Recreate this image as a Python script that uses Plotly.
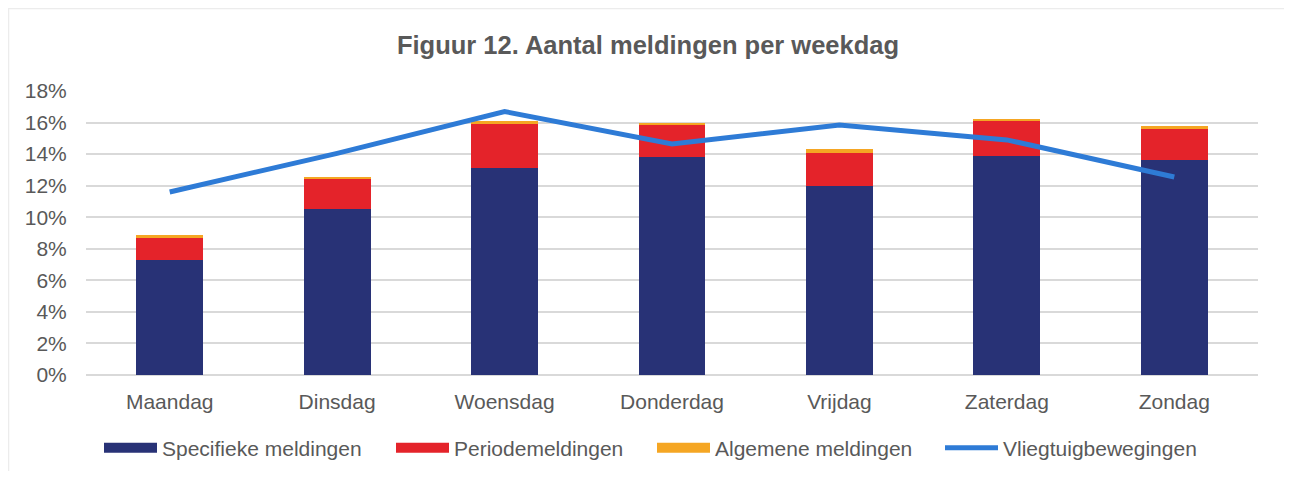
import plotly.graph_objects as go

days = ["Maandag", "Dinsdag", "Woensdag", "Donderdag", "Vrijdag", "Zaterdag", "Zondag"]
specifieke = [7.3, 10.5, 13.15, 13.8, 12.0, 13.9, 13.6]
periode = [1.4, 1.9, 2.75, 2.05, 2.1, 2.2, 2.0]
algemene = [0.2, 0.15, 0.2, 0.15, 0.22, 0.15, 0.2]
vliegtuig = [11.6, 14.05, 16.7, 14.65, 15.85, 14.9, 12.55]
y_ticks = [0, 2, 4, 6, 8, 10, 12, 14, 16, 18]

NAVY = "#283276"
RED = "#e4232a"
ORANGE = "#f5a623"
BLUE = "#2e7bd6"
TXT = "#595959"
FONT = "Liberation Sans, Arial, sans-serif"

# page body has an 8px margin; figure is placed at (8, 8)
OFF = 8
W, H = 1276, 463
PL, PR, PT, PB = 86, 1258, 91, 375  # plot area in page pixels
PW, PH = PR - PL, PB - PT

fig = go.Figure()
for name, vals, col in [("Specifieke meldingen", specifieke, NAVY),
                        ("Periodemeldingen", periode, RED),
                        ("Algemene meldingen", algemene, ORANGE)]:
    fig.add_trace(go.Bar(x=days, y=vals, name=name, marker_color=col,
                         marker_line_width=0, showlegend=False))

fig.add_trace(go.Scatter(x=days, y=vliegtuig, mode="lines", name="Vliegtuigbewegingen",
                         line=dict(color=BLUE, width=5), showlegend=False))

legend_entries = [("Specifieke meldingen", NAVY, 10, 104),
                  ("Periodemeldingen", RED, 10, 396),
                  ("Algemene meldingen", ORANGE, 10, 657),
                  ("Vliegtuigbewegingen", BLUE, 5, 945)]
legend_layout = {}
for i, (name, col, w, px) in enumerate(legend_entries):
    key = "legend" if i == 0 else f"legend{i + 1}"
    fig.add_trace(go.Scatter(x=[None], y=[None], mode="lines", name=name,
                             line=dict(color=col, width=w), showlegend=True, legend=key))
    legend_layout[key] = dict(orientation="h", x=(px - 5 - PL) / PW, xanchor="left",
                              y=(PB - 448) / PH, yanchor="middle",
                              font=dict(size=21, color=TXT, family=FONT), itemwidth=53,
                              bgcolor="rgba(0,0,0,0)", borderwidth=0)

fig.update_layout(
    barmode="stack",
    bargap=0.6,
    width=W, height=H,
    margin=dict(l=PL - OFF, r=W - (PR - OFF), t=PT - OFF, b=H - (PB - OFF), autoexpand=False),
    paper_bgcolor="white", plot_bgcolor="white",
    font=dict(family=FONT, color=TXT, size=21),
    title=dict(text="<b>Figuur 12. Aantal meldingen per weekdag</b>", x=(648 - OFF) / W,
               xref="container", xanchor="center", y=1 - (45 - OFF) / H, yanchor="middle",
               font=dict(size=25.5, color=TXT, family=FONT)),
    showlegend=True,
    **legend_layout,
)
fig.update_xaxes(showgrid=False, ticks="outside", ticklen=8, tickcolor="rgba(0,0,0,0)",
                 showline=False, tickfont=dict(size=21, color=TXT))
fig.update_yaxes(range=[0, 18], tickvals=y_ticks, ticktext=[f"{v}%" for v in y_ticks],
                 showgrid=True, gridcolor="#d9d9d9", gridwidth=1.5, zeroline=True,
                 zerolinecolor="#d9d9d9", zerolinewidth=1.5,
                 ticks="outside", ticklen=14, tickcolor="rgba(0,0,0,0)",
                 tickfont=dict(size=21, color=TXT))
fig.add_shape(type="rect", xref="paper", yref="paper",
              x0=(8.5 - PL) / PW, x1=(1287.5 - PL) / PW,
              y0=(PB - 490) / PH, y1=1 + (PT - 8.5) / PH,
              line=dict(color="#ececec", width=1.5), fillcolor="rgba(0,0,0,0)", layer="below")

fig.write_html("out.html")
